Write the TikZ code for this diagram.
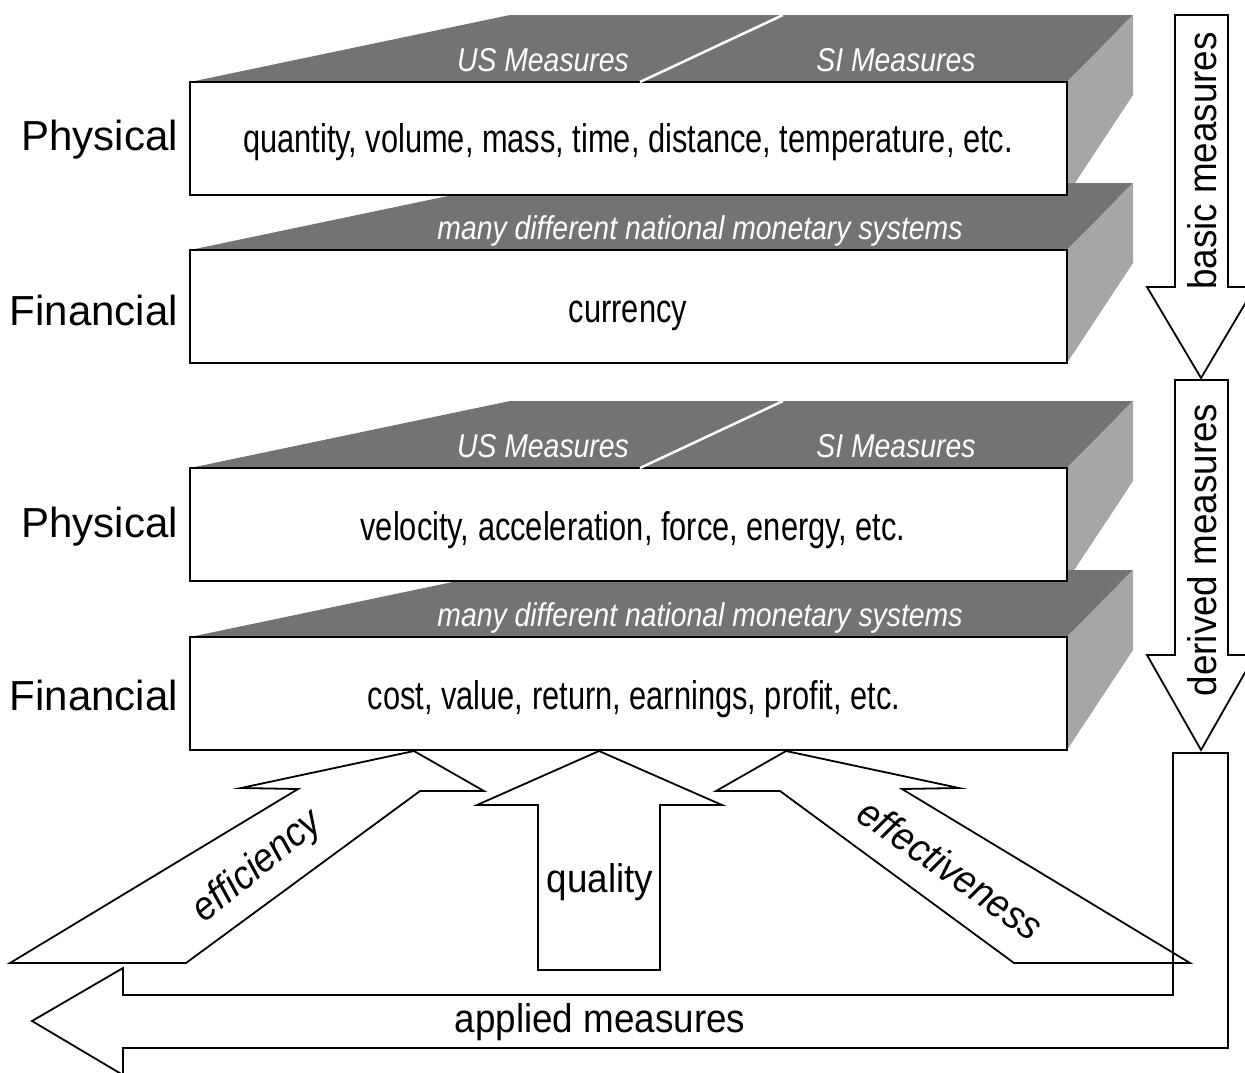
\documentclass[tikz,border=0pt]{standalone}
\usepackage{fontspec}
\setmainfont{Liberation Sans}
\newfontfamily\condfont{Liberation Sans}[FakeStretch=0.77]
\newfontfamily\topfont{Liberation Sans}[FakeStretch=0.86]
\newfontfamily\labfont{Liberation Sans}[FakeStretch=0.92]
\definecolor{topgray}{gray}{0.45}
\definecolor{sidegray}{gray}{0.65}
\tikzset{
  topface/.style={fill=topgray, draw=none},
  sideface/.style={fill=sidegray, draw=none},
  frontbox/.style={draw=black, fill=white, line width=1.8pt},
  divline/.style={draw=white, line width=2.5pt},
  toptext/.style={text=white, font=\topfont\fontsize{33}{36}\selectfont\itshape, inner sep=0pt, anchor=base},
  fronttext/.style={font=\condfont\fontsize{40}{44}\selectfont, inner sep=0pt, anchor=base},
  sidelabel/.style={font=\fontsize{42}{46}\selectfont, anchor=east, inner sep=0pt},
  arrowlabel/.style={font=\labfont\fontsize{40}{44}\selectfont, inner sep=0pt},
  slantlabel/.style={font=\labfont\fontsize{40}{44}\selectfont\itshape, inner sep=0pt},
  arrowshape/.style={draw=black, line width=1.8pt, line join=miter}
}
\newcommand\slabback[1]{%
  \begin{scope}[shift={(0,#1)}]
    \fill[topface] (190,0) -- (510,-67) -- (1133,-67) -- (1067,0) -- cycle;
    \fill[sideface] (1067,0) -- (1133,-67) -- (1133,13) -- (1067,113) -- cycle;
  \end{scope}}
\newcommand\slabfront[1]{%
  \begin{scope}[shift={(0,#1)}]
    \draw[frontbox] (190,0) rectangle (1067,113);
  \end{scope}}
\begin{document}
\begin{tikzpicture}[x=1pt,y=-1pt]
\useasboundingbox (0,0) rectangle (1245,1072);
\clip (0,0) rectangle (1245,1072);
% upper pair
\slabback{82}
\slabback{250}
\slabfront{82}
\slabfront{250}
% lower pair
\slabback{468}
\slabback{637}
\slabfront{468}
\slabfront{637}
% dividing lines
\draw[divline] (640,82) -- (783,15);
\draw[divline] (640,468) -- (783,401);
% top-face texts
\node[toptext] (us1) at (543,71) {US Measures};
\node[toptext] (si1) at (896,71) {SI Measures};
\node[toptext] (mon1) at (700,239) {many different national monetary systems};
\node[toptext] (us2) at (543,457) {US Measures};
\node[toptext] (si2) at (896,457) {SI Measures};
\node[toptext] (mon2) at (700,626) {many different national monetary systems};
% front texts
\node[fronttext] (t1) at (628,152) {quantity, volume, mass, time, distance, temperature, etc.};
\node[fronttext] (t2) at (628,322) {currency};
\node[fronttext] (t3) at (633,540) {velocity, acceleration, force, energy, etc.};
\node[fronttext] (t4) at (634,709) {cost, value, return, earnings, profit, etc.};
% left labels
\node[sidelabel] (p1) at (178,140) {Physical};
\node[sidelabel] (f1) at (178,310) {Financial};
\node[sidelabel] (p2) at (178,527) {Physical};
\node[sidelabel] (f2) at (178,695) {Financial};
% right arrows
\draw[arrowshape] (1175,15) -- (1228,15) -- (1228,287) -- (1255,287) -- (1201,378) -- (1147,287) -- (1175,287) -- cycle;
\draw[arrowshape] (1175,380) -- (1228,380) -- (1228,655) -- (1255,655) -- (1201,750) -- (1147,655) -- (1175,655) -- cycle;
\node[arrowlabel, rotate=90] (basic) at (1202,161) {basic measures};
\node[arrowlabel, rotate=90] (derived) at (1202,550) {derived measures};
% bottom arrows
\draw[arrowshape] (10,963) -- (298,789) -- (241,788) -- (414,751) -- (484,791) -- (420,791) -- (186,963) -- cycle;
\draw[arrowshape] (538,970) -- (538,805) -- (477,805) -- (599,751) -- (722,805) -- (660,805) -- (660,970) -- cycle;
\draw[arrowshape] (1190,963) -- (902,789) -- (959,788) -- (786,751) -- (716,791) -- (780,791) -- (1014,963) -- cycle;
\node[slantlabel, rotate=39] (eff) at (258,867) {efficiency};
\node[arrowlabel] (qual) at (600,882) {quality};
\node[slantlabel, rotate=-35] (effv) at (951,869) {effectiveness};
% applied measures L-arrow
\draw[arrowshape] (1173,753) -- (1228,753) -- (1228,1048) -- (123,1048) -- (123,1075) -- (32,1021) -- (123,968) -- (123,995) -- (1173,995) -- cycle;
\node[arrowlabel] (applied) at (600,1022) {applied measures};
\end{tikzpicture}
\end{document}
